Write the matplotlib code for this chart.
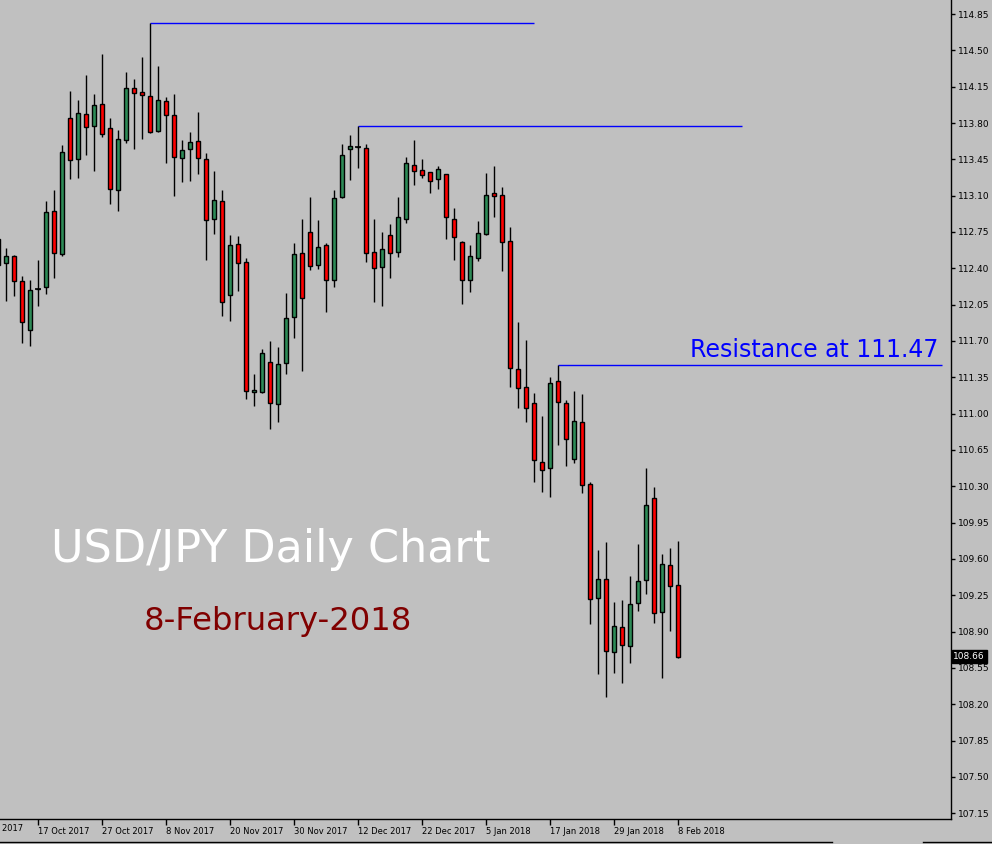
import matplotlib
matplotlib.use("Agg")
import matplotlib.pyplot as plt
from matplotlib.lines import Line2D
from matplotlib.transforms import blended_transform_factory
import numpy as np

# ---------------- data (bar index 0 = 17 Oct 2017) ----------------
first_index = -5
opens = [112.43, 112.45, 112.52, 112.28, 111.81, 112.20, 112.22, 112.95, 112.54, 113.85,
         113.45, 113.89, 113.77, 113.98, 113.75, 113.15, 113.64, 114.14, 114.10, 114.06,
         113.72, 114.01, 113.88, 113.46, 113.55, 113.63, 113.45, 112.88, 113.05, 112.14,
         112.63, 112.46, 111.21, 111.21, 111.50, 111.09, 111.49, 111.93, 112.55, 112.75,
         112.43, 112.62, 112.29, 113.09, 113.55, 113.57, 113.56, 112.56, 112.41, 112.72,
         112.56, 112.88, 113.40, 113.35, 113.33, 113.26, 113.31, 112.88, 112.65, 112.29,
         112.50, 112.73, 113.13, 113.11, 112.66, 111.43, 111.26, 111.10, 110.53, 110.48,
         111.31, 111.10, 110.56, 110.92, 110.32, 109.22, 109.41, 108.70, 108.94, 108.76,
         109.18, 109.40, 110.19, 109.09, 109.54, 109.35]
highs = [112.75, 112.60, 112.53, 112.33, 112.29, 112.48, 113.05, 113.15, 113.59, 114.11,
         114.02, 114.26, 114.08, 114.46, 113.85, 113.73, 114.29, 114.22, 114.44, 114.76,
         114.35, 114.05, 114.08, 113.64, 113.71, 113.91, 113.51, 113.34, 113.15, 112.72,
         112.71, 112.50, 111.38, 111.62, 111.70, 111.64, 112.16, 112.64, 112.88, 113.09,
         112.87, 112.64, 113.15, 113.60, 113.68, 113.77, 113.60, 112.88, 112.75, 112.83,
         113.09, 113.47, 113.64, 113.45, 113.33, 113.39, 113.31, 112.98, 112.66, 112.62,
         112.86, 113.32, 113.39, 113.18, 112.80, 111.88, 111.71, 111.20, 110.98, 111.35,
         111.47, 111.13, 111.22, 111.19, 110.34, 109.69, 109.76, 109.19, 109.20, 109.44,
         109.74, 110.48, 110.29, 109.65, 109.71, 109.77]
lows = [112.35, 112.09, 112.13, 111.68, 111.65, 112.04, 112.15, 112.31, 112.52, 113.26,
        113.27, 113.49, 113.34, 113.67, 113.02, 112.95, 113.61, 113.55, 113.65, 113.70,
        113.71, 113.41, 113.10, 113.23, 113.24, 113.31, 112.48, 112.73, 111.94, 111.89,
        112.18, 111.14, 111.07, 111.20, 110.85, 110.92, 111.38, 111.73, 111.41, 112.38,
        112.39, 111.98, 112.22, 113.08, 113.25, 113.37, 112.46, 112.08, 112.04, 112.31,
        112.51, 112.84, 113.20, 113.27, 113.13, 113.16, 112.68, 112.48, 112.06, 112.17,
        112.47, 112.72, 112.89, 112.37, 111.26, 111.05, 110.92, 110.34, 110.25, 110.20,
        110.70, 110.50, 110.52, 110.24, 108.97, 108.49, 108.27, 108.50, 108.41, 108.60,
        109.10, 109.26, 108.98, 108.45, 108.91, 108.65]
closes = [112.68, 112.52, 112.28, 111.88, 112.19, 112.20, 112.94, 112.55, 113.52, 113.44,
          113.90, 113.76, 113.97, 113.69, 113.16, 113.65, 114.14, 114.09, 114.07, 113.71,
          114.02, 113.88, 113.47, 113.54, 113.62, 113.46, 112.87, 113.06, 112.08, 112.62,
          112.45, 111.22, 111.23, 111.58, 111.10, 111.48, 111.92, 112.54, 112.11, 112.42,
          112.61, 112.29, 113.08, 113.49, 113.58, 113.57, 112.55, 112.40, 112.59, 112.55,
          112.89, 113.41, 113.34, 113.30, 113.24, 113.36, 112.89, 112.70, 112.29, 112.52,
          112.74, 113.11, 113.10, 112.65, 111.44, 111.25, 111.05, 110.55, 110.46, 111.30,
          111.11, 110.76, 110.93, 110.31, 109.21, 109.41, 108.71, 108.95, 108.77, 109.17,
          109.39, 110.12, 109.08, 109.55, 109.34, 108.66]

# Horizontal level lines: price, starting bar index, length in bars
level_prices = [114.76, 113.77, 111.47]
level_start = [14, 40, 65]
level_length = 48

date_labels = ["5 Oct 2017", "17 Oct 2017", "27 Oct 2017", "8 Nov 2017", "20 Nov 2017",
               "30 Nov 2017", "12 Dec 2017", "22 Dec 2017", "5 Jan 2018", "17 Jan 2018",
               "29 Jan 2018", "8 Feb 2018"]
date_label_index = [-8, 0, 8, 16, 24, 32, 40, 48, 56, 64, 72, 80]

price_ticks = [107.15, 107.50, 107.85, 108.20, 108.55, 108.90, 109.25, 109.60, 109.95,
               110.30, 110.65, 111.00, 111.35, 111.70, 112.05, 112.40, 112.75, 113.10,
               113.45, 113.80, 114.15, 114.50, 114.85]
last_price = 108.66

# ---------------- figure ----------------
W, H = 992, 844
BG = "#C0C0C0"
fig = plt.figure(figsize=(W / 100, H / 100), dpi=100)
fig.patch.set_facecolor(BG)
ax_right_px, ax_bottom_px = 951, 819
ax = fig.add_axes([0, 1 - ax_bottom_px / H, ax_right_px / W, ax_bottom_px / H])
ax.set_facecolor(BG)

x = np.arange(len(opens)) + first_index
o = np.array(opens); c = np.array(closes); hi = np.array(highs); lo = np.array(lows)

ax.vlines(x, lo, hi, color="black", linewidth=1.0, zorder=2)
up = c >= o
body_colors = np.where(up, "#2E8B57", "#FF0000")
heights = np.abs(c - o)
bottoms = np.minimum(o, c)
ax.bar(x, heights, bottom=bottoms, width=0.62, color=body_colors,
       edgecolor="black", linewidth=1.0, zorder=3)
doji = heights < 0.005
ax.hlines(c[doji], x[doji] - 0.35, x[doji] + 0.35, color="black", linewidth=1.2, zorder=4)

for p, s in zip(level_prices, level_start):
    ax.hlines(p, s, s + level_length, color="#0000FF", linewidth=1.0, zorder=1)

ax.set_xlim(-4.75, 114.125)
ax.set_ylim(107.095, 114.985)

# spines
for sp in ["top", "left"]:
    ax.spines[sp].set_visible(False)
for sp in ["right", "bottom"]:
    ax.spines[sp].set_color("black")
    ax.spines[sp].set_linewidth(1.0)

# y axis on right
ax.yaxis.tick_right()
ax.set_yticks(price_ticks)
ax.set_yticklabels([f"{v:.2f}" for v in price_ticks])
ax.tick_params(axis="y", direction="out", length=3, width=1, pad=2,
               labelsize=6.5, colors="black")

# x axis ticks (visible ones) + labels left aligned
vis = [(i, l) for i, l in zip(date_label_index, date_labels) if i >= -4.75]
ax.set_xticks([i for i, _ in vis])
ax.set_xticklabels([l for _, l in vis], ha="left")
ax.tick_params(axis="x", direction="out", length=4, width=1, pad=2,
               labelsize=6.0, colors="black")
for t in ax.get_xticklabels():
    t.set_horizontalalignment("left")
# off-screen first date label (partially visible, as in the reference)
bt = blended_transform_factory(ax.transData, ax.transAxes)
for i, l in zip(date_label_index, date_labels):
    if i < -4.75:
        ax.text(i + 0.4, -0.0055, l, transform=bt, ha="left", va="top", fontsize=6.0,
                color="black", clip_on=False)

# last price label
bt2 = blended_transform_factory(ax.transAxes, ax.transData)
ax.text(1.0025, last_price, f"{last_price:.2f}", transform=bt2, ha="left", va="center",
        fontsize=6.5, color="white", zorder=10, clip_on=False,
        bbox=dict(boxstyle="square,pad=0.18", facecolor="black", edgecolor="black"))

# annotations
fig.text(271 / W, 1 - 562 / H, "USD/JPY Daily Chart", color="white", fontsize=32,
         ha="center", va="baseline", family="DejaVu Sans")
fig.text(278 / W, 1 - 630 / H, "8-February-2018", color="#800000", fontsize=23.2,
         ha="center", va="baseline", family="DejaVu Sans")
fig.text(938 / W, 1 - 356.5 / H, "Resistance at 111.47", color="#0000FF", fontsize=17,
         ha="right", va="baseline", family="DejaVu Sans")

# bottom window border
yb = 1 - 841.5 / H
fig.add_artist(Line2D([0, 832 / W], [yb, yb], color="black", linewidth=1, transform=fig.transFigure))
fig.add_artist(Line2D([923 / W, 1], [yb, yb], color="black", linewidth=1, transform=fig.transFigure))

fig.savefig("out.png", dpi=100, facecolor=BG)
